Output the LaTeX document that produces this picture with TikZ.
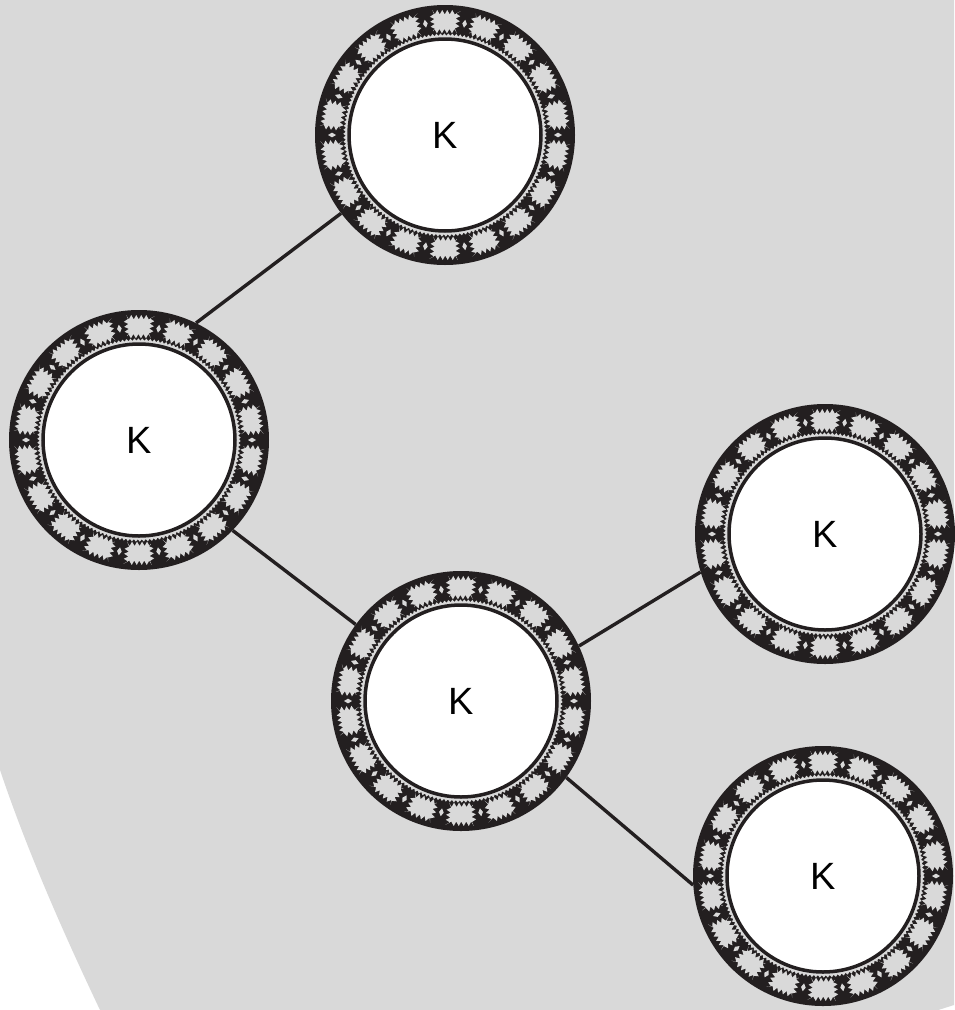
\documentclass[tikz,border=0pt]{standalone}
\usepackage{fontspec}
\setmainfont{Liberation Sans}
\usetikzlibrary{decorations.pathmorphing}
\definecolor{ink}{RGB}{35,31,32}
\definecolor{paper}{RGB}{217,217,217}
\pgfdeclarelayer{back}
\pgfdeclarelayer{edges}
\pgfsetlayers{back,edges,main}
\begin{document}
\begin{tikzpicture}[x=1pt,y=-1pt,
  hub/.style={circle,minimum size=260pt,inner sep=0pt,text=black,
    font=\fontsize{38}{40}\selectfont},
  link/.style={draw=ink,line width=3.4pt},
  tile/.style={fill=paper,decorate,
    decoration={zigzag,segment length=5pt,amplitude=2.2pt}},
  speck/.style={fill=paper},
  rim/.style={draw=ink,line width=4pt},
  seam/.style={fill=paper,decorate,
    decoration={zigzag,segment length=4pt,amplitude=1.2pt}},
  core/.style={fill=white,draw=ink,line width=3.5pt}]
\useasboundingbox (0,0) rectangle (954,1010);

% shaded backdrop with the white cut-outs at the lower corners
\begin{pgfonlayer}{back}
  \fill[paper] (0,0) -- (954,0) -- (954,1005) -- (932,1012) -- (100,1012)
    -- (100,1010) .. controls (62,930) and (27,850) .. (0,770) -- cycle;
\end{pgfonlayer}

% patterned rings: dark band, light notched tiles, thin seam, white core
\foreach \x/\y in {445/135,139/440,461/701,825/534,823/876}{
  \begin{scope}[shift={(\x,\y)}]
    \fill[ink] (0,0) circle (128);
    \foreach \a in {10,30,...,350}{
      \path[tile] (\a-6.5:104.5) -- (\a+6.5:104.5) -- (\a+6.2:123.5)
        -- (\a-6.2:123.5) -- cycle;
    }
    \foreach \a in {0,20,...,340}{
      \fill[speck] (\a:109) -- (\a+1.2:113) -- (\a:117) -- (\a-1.2:113) -- cycle;
    }
    \path[seam] (0,0) circle (100.5);
    \draw[rim] (0,0) circle (128);
    \path[core] (0,0) circle (96);
  \end{scope}
}

% labelled nodes
\node[hub] (top)   at (445,135) {K};
\node[hub] (left)  at (139,440) {K};
\node[hub] (mid)   at (461,701) {K};
\node[hub] (right) at (825,534) {K};
\node[hub] (low)   at (823,876) {K};

% connectors
\begin{pgfonlayer}{edges}
  \draw[link] (left.64) -- (top.217);
  \draw[link] (left.-44) -- (mid.144);
  \draw[link] (mid.25) -- (right.197);
  \draw[link] (mid.-36) -- (low.184);
\end{pgfonlayer}
\end{tikzpicture}
\end{document}
